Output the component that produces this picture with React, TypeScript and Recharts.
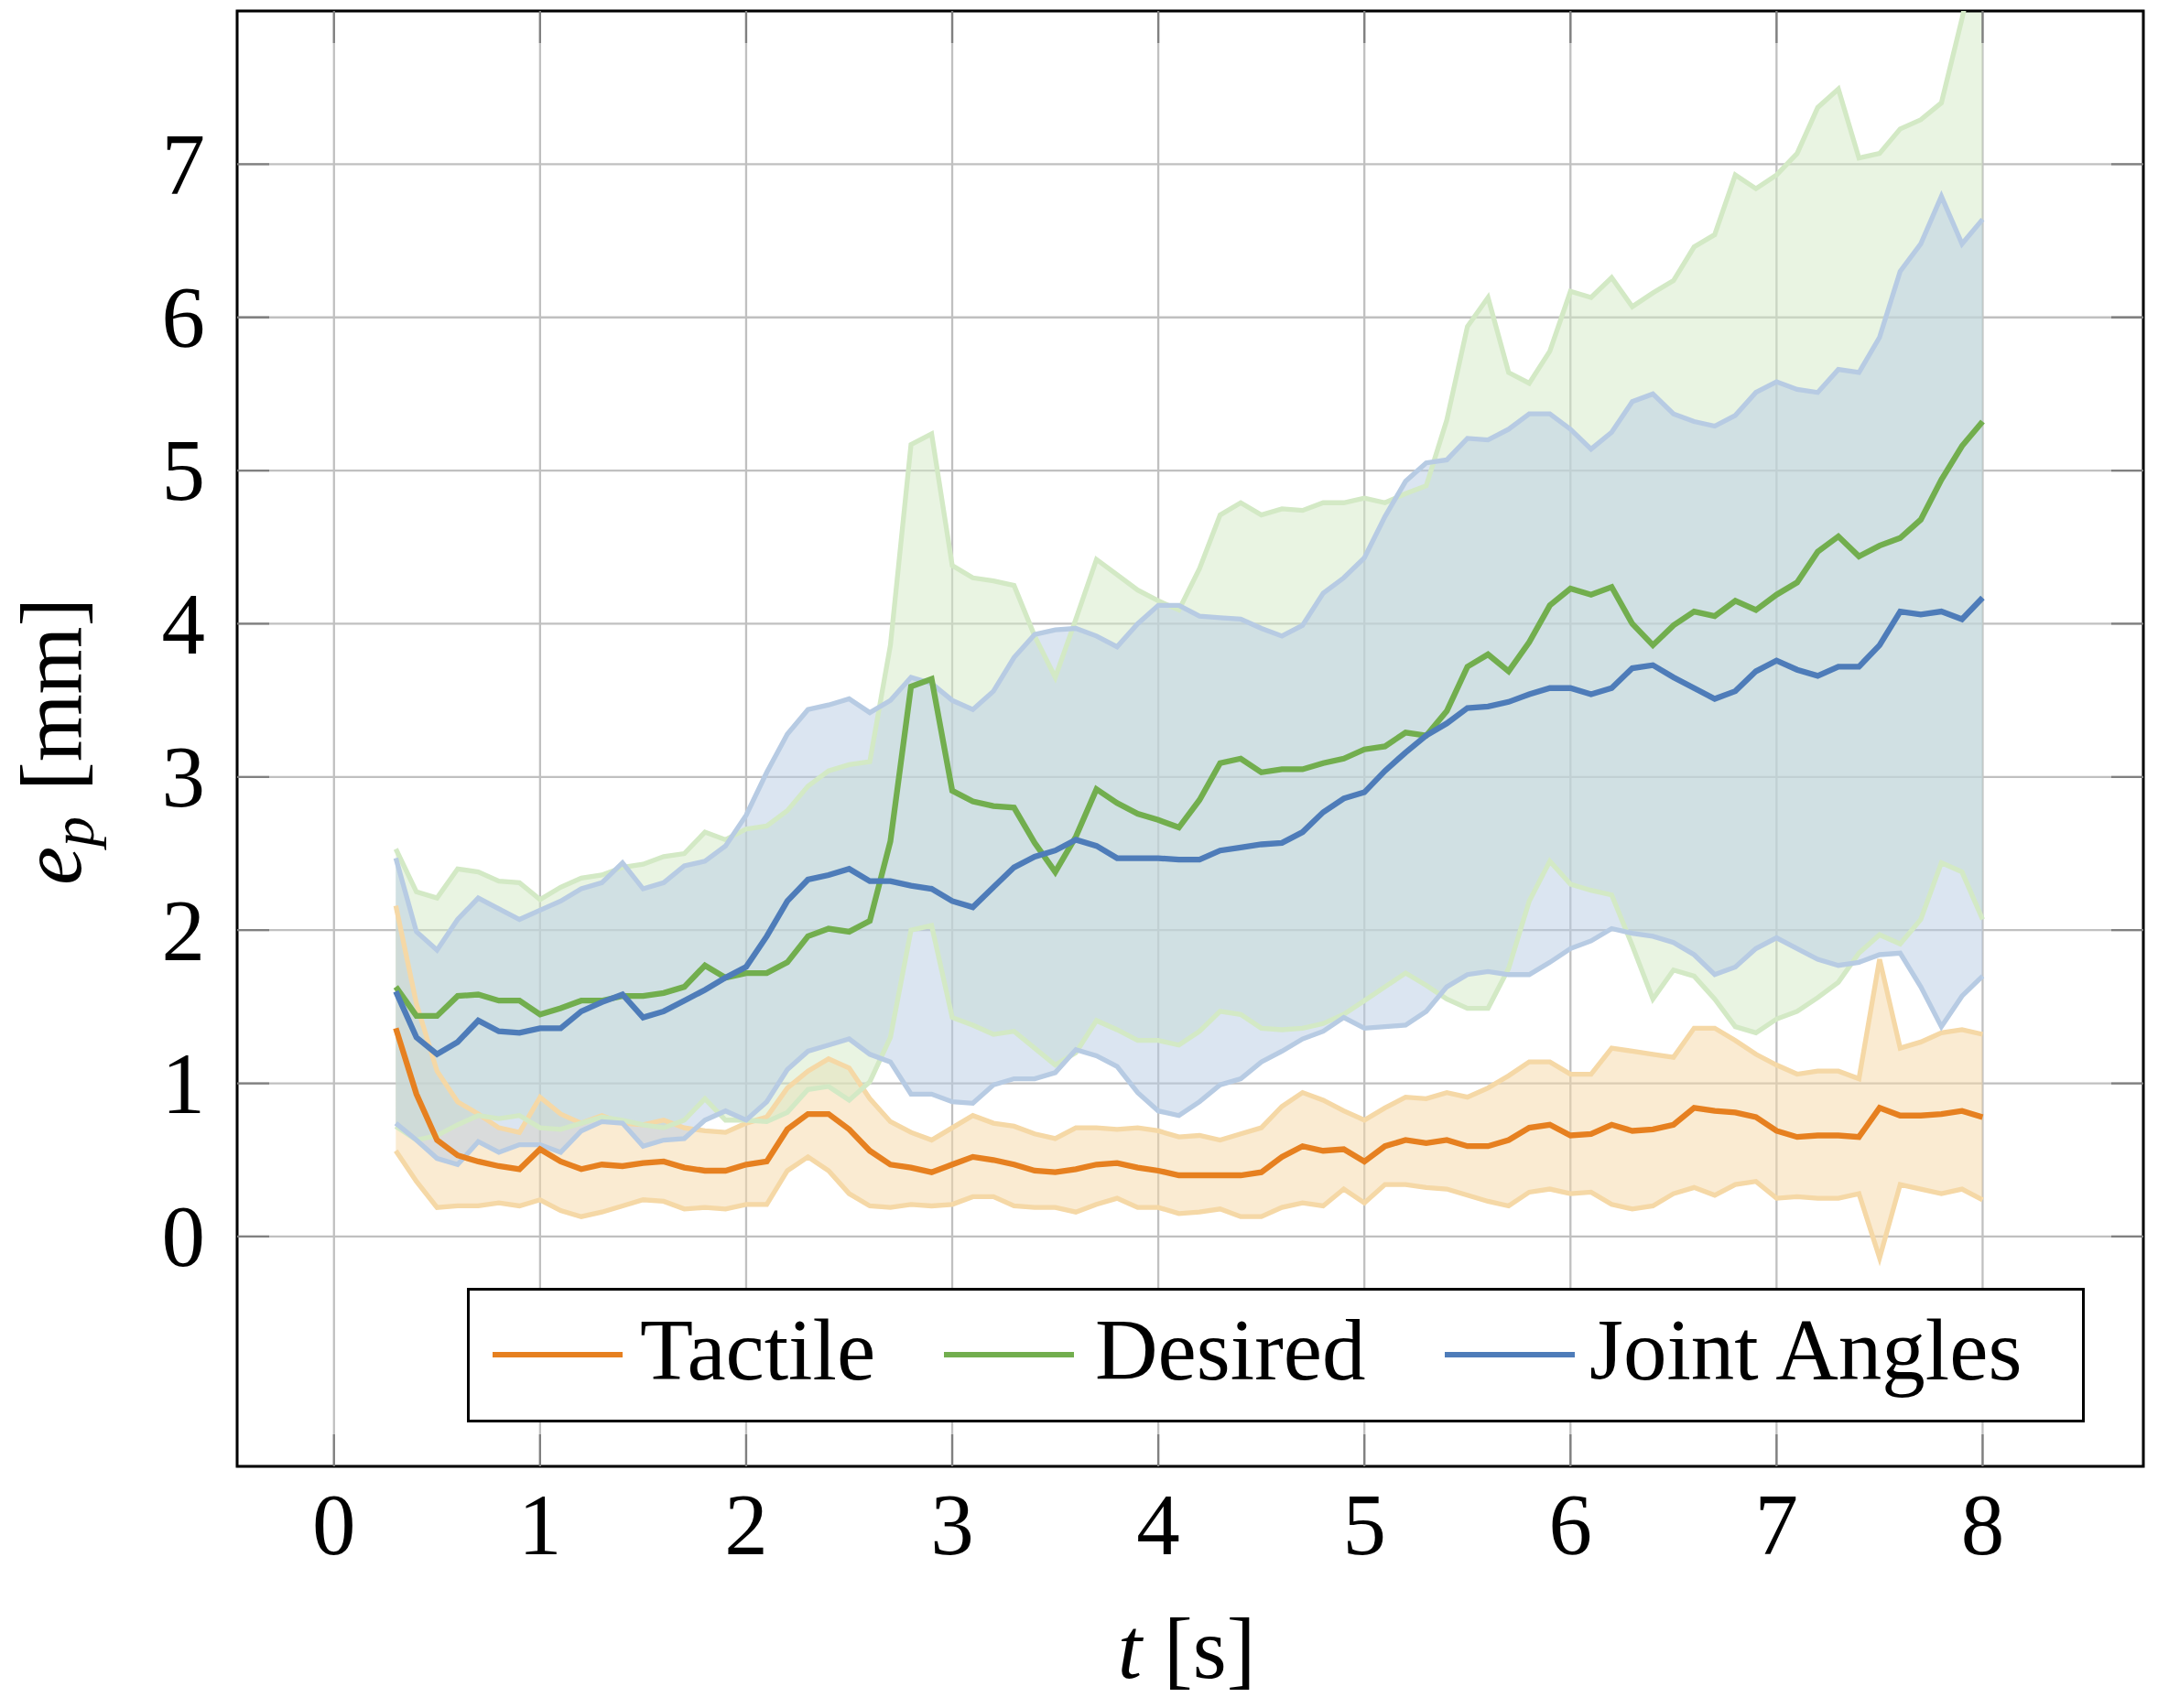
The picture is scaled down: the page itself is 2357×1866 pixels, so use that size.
import React from "react";
import {
  ComposedChart,
  Area,
  Line,
  XAxis,
  YAxis,
  CartesianGrid,
  ReferenceArea,
} from "recharts";

// time stamps [s]
const TIME = [
  0.3, 0.4, 0.5, 0.6, 0.7, 0.8, 0.9,
  1.0, 1.1, 1.2, 1.3, 1.4, 1.5, 1.6, 1.7, 1.8, 1.9,
  2.0, 2.1, 2.2, 2.3, 2.4, 2.5, 2.6, 2.7, 2.8, 2.9,
  3.0, 3.1, 3.2, 3.3, 3.4, 3.5, 3.6, 3.7, 3.8, 3.9,
  4.0, 4.1, 4.2, 4.3, 4.4, 4.5, 4.6, 4.7, 4.8, 4.9,
  5.0, 5.1, 5.2, 5.3, 5.4, 5.5, 5.6, 5.7, 5.8, 5.9,
  6.0, 6.1, 6.2, 6.3, 6.4, 6.5, 6.6, 6.7, 6.8, 6.9,
  7.0, 7.1, 7.2, 7.3, 7.4, 7.5, 7.6, 7.7, 7.8, 7.9,
  8.0,
];

// Tactile
const tactileMean = [
  1.36, 0.93, 0.63, 0.53, 0.49, 0.46, 0.44,
  0.57, 0.49, 0.44, 0.47, 0.46, 0.48, 0.49, 0.45, 0.43, 0.43,
  0.47, 0.49, 0.70, 0.80, 0.80, 0.70, 0.56, 0.47, 0.45, 0.42,
  0.47, 0.52, 0.50, 0.47, 0.43, 0.42, 0.44, 0.47, 0.48, 0.45,
  0.43, 0.40, 0.40, 0.40, 0.40, 0.42, 0.52, 0.59, 0.56, 0.57,
  0.49, 0.59, 0.63, 0.61, 0.63, 0.59, 0.59, 0.63, 0.71, 0.73,
  0.66, 0.67, 0.73, 0.69, 0.70, 0.73, 0.84, 0.82, 0.81, 0.78,
  0.69, 0.65, 0.66, 0.66, 0.65, 0.84, 0.79, 0.79, 0.80, 0.82,
  0.78,
];
const tactileUpper = [
  2.16, 1.52, 1.08, 0.88, 0.80, 0.71, 0.68,
  0.91, 0.80, 0.74, 0.79, 0.74, 0.73, 0.76, 0.71, 0.69, 0.68,
  0.74, 0.78, 0.97, 1.08, 1.16, 1.10, 0.90, 0.75, 0.68, 0.63,
  0.71, 0.79, 0.74, 0.72, 0.67, 0.64, 0.71, 0.71, 0.70, 0.71,
  0.69, 0.65, 0.66, 0.63, 0.67, 0.71, 0.85, 0.94, 0.89, 0.82,
  0.76, 0.84, 0.91, 0.90, 0.94, 0.91, 0.97, 1.05, 1.14, 1.14,
  1.06, 1.06, 1.23, 1.21, 1.19, 1.17, 1.36, 1.36, 1.28, 1.19,
  1.12, 1.06, 1.08, 1.08, 1.03, 1.81, 1.23, 1.27, 1.33, 1.35,
  1.32,
];
const tactileLower = [
  0.56, 0.36, 0.19, 0.20, 0.20, 0.22, 0.20,
  0.24, 0.17, 0.13, 0.16, 0.20, 0.24, 0.23, 0.18, 0.19, 0.18,
  0.21, 0.21, 0.43, 0.52, 0.43, 0.28, 0.20, 0.19, 0.21, 0.20,
  0.21, 0.26, 0.26, 0.20, 0.19, 0.19, 0.16, 0.21, 0.25, 0.19,
  0.19, 0.15, 0.16, 0.18, 0.13, 0.13, 0.19, 0.22, 0.20, 0.31,
  0.22, 0.34, 0.34, 0.32, 0.31, 0.27, 0.23, 0.20, 0.29, 0.31,
  0.28, 0.29, 0.21, 0.18, 0.20, 0.28, 0.32, 0.27, 0.34, 0.36,
  0.25, 0.26, 0.25, 0.25, 0.28, -0.14, 0.34, 0.31, 0.28, 0.31,
  0.24,
];

// Desired
const desiredMean = [
  1.63, 1.44, 1.44, 1.57, 1.58, 1.54, 1.54,
  1.45, 1.49, 1.54, 1.54, 1.57, 1.57, 1.59, 1.63, 1.77, 1.69,
  1.72, 1.72, 1.79, 1.96, 2.01, 1.99, 2.06, 2.58, 3.59, 3.64,
  2.91, 2.84, 2.81, 2.80, 2.57, 2.38, 2.61, 2.92, 2.83, 2.76,
  2.72, 2.67, 2.85, 3.09, 3.12, 3.03, 3.05, 3.05, 3.09, 3.12,
  3.18, 3.20, 3.29, 3.27, 3.43, 3.72, 3.80, 3.69, 3.88, 4.12,
  4.23, 4.19, 4.24, 4.00, 3.86, 3.99, 4.08, 4.05, 4.15, 4.09,
  4.19, 4.27, 4.47, 4.57, 4.44, 4.51, 4.56, 4.68, 4.94, 5.16,
  5.32,
];
const desiredUpper = [
  2.53, 2.25, 2.21, 2.40, 2.38, 2.32, 2.31,
  2.20, 2.28, 2.34, 2.36, 2.41, 2.43, 2.48, 2.50, 2.64, 2.59,
  2.66, 2.68, 2.78, 2.94, 3.04, 3.08, 3.10, 3.86, 5.17, 5.24,
  4.38, 4.30, 4.28, 4.25, 3.92, 3.65, 4.03, 4.42, 4.32, 4.22,
  4.15, 4.09, 4.36, 4.71, 4.79, 4.71, 4.75, 4.74, 4.79, 4.79,
  4.82, 4.79, 4.85, 4.90, 5.33, 5.94, 6.13, 5.64, 5.57, 5.78,
  6.17, 6.13, 6.26, 6.07, 6.16, 6.24, 6.46, 6.54, 6.93, 6.84,
  6.93, 7.07, 7.37, 7.49, 7.04, 7.07, 7.23, 7.29, 7.40, 7.95,
  8.57,
];
const desiredLower = [
  0.72, 0.63, 0.66, 0.73, 0.79, 0.77, 0.79,
  0.71, 0.70, 0.74, 0.78, 0.76, 0.73, 0.71, 0.76, 0.90, 0.76,
  0.76, 0.75, 0.81, 0.96, 0.98, 0.89, 1.01, 1.30, 2.00, 2.03,
  1.43, 1.38, 1.32, 1.34, 1.23, 1.12, 1.20, 1.41, 1.35, 1.28,
  1.28, 1.25, 1.34, 1.47, 1.45, 1.36, 1.35, 1.36, 1.39, 1.45,
  1.54, 1.63, 1.72, 1.64, 1.55, 1.49, 1.49, 1.75, 2.19, 2.45,
  2.30, 2.26, 2.23, 1.90, 1.55, 1.74, 1.70, 1.55, 1.37, 1.33,
  1.42, 1.47, 1.56, 1.66, 1.85, 1.97, 1.91, 2.07, 2.44, 2.38,
  2.07,
];

// Joint Angles
const jointMean = [
  1.60, 1.30, 1.19, 1.27, 1.41, 1.34, 1.33,
  1.36, 1.36, 1.47, 1.53, 1.58, 1.43, 1.47, 1.54, 1.61, 1.69,
  1.76, 1.96, 2.19, 2.33, 2.36, 2.40, 2.32, 2.32, 2.29, 2.27,
  2.19, 2.15, 2.28, 2.41, 2.48, 2.52, 2.59, 2.55, 2.47, 2.47,
  2.47, 2.46, 2.46, 2.52, 2.54, 2.56, 2.57, 2.64, 2.77, 2.86,
  2.90, 3.04, 3.16, 3.27, 3.35, 3.45, 3.46, 3.49, 3.54, 3.58,
  3.58, 3.54, 3.58, 3.71, 3.73, 3.65, 3.58, 3.51, 3.56, 3.69,
  3.76, 3.70, 3.66, 3.72, 3.72, 3.86, 4.08, 4.06, 4.08, 4.03,
  4.17,
];
const jointUpper = [
  2.47, 1.99, 1.87, 2.07, 2.21, 2.14, 2.07,
  2.13, 2.19, 2.27, 2.31, 2.44, 2.27, 2.31, 2.42, 2.45, 2.55,
  2.75, 3.03, 3.28, 3.44, 3.47, 3.51, 3.42, 3.50, 3.65, 3.61,
  3.50, 3.44, 3.56, 3.78, 3.93, 3.96, 3.97, 3.92, 3.85, 4.00,
  4.12, 4.12, 4.05, 4.04, 4.03, 3.97, 3.92, 3.99, 4.20, 4.30,
  4.43, 4.70, 4.93, 5.05, 5.07, 5.21, 5.20, 5.27, 5.37, 5.37,
  5.27, 5.14, 5.25, 5.45, 5.50, 5.37, 5.32, 5.29, 5.36, 5.51,
  5.58, 5.53, 5.51, 5.66, 5.64, 5.87, 6.30, 6.48, 6.79, 6.48,
  6.64,
];
const jointLower = [
  0.74, 0.63, 0.51, 0.47, 0.62, 0.55, 0.60,
  0.60, 0.55, 0.69, 0.75, 0.74, 0.59, 0.63, 0.64, 0.76, 0.82,
  0.76, 0.88, 1.09, 1.21, 1.25, 1.29, 1.19, 1.14, 0.93, 0.93,
  0.88, 0.87, 0.99, 1.03, 1.03, 1.07, 1.22, 1.18, 1.11, 0.94,
  0.82, 0.79, 0.88, 0.99, 1.03, 1.14, 1.21, 1.29, 1.34, 1.43,
  1.36, 1.37, 1.38, 1.47, 1.63, 1.71, 1.73, 1.71, 1.71, 1.79,
  1.88, 1.93, 2.01, 1.98, 1.96, 1.92, 1.84, 1.71, 1.76, 1.88,
  1.95, 1.88, 1.81, 1.77, 1.79, 1.84, 1.85, 1.63, 1.37, 1.57,
  1.70,
];

const X_TICKS = [0, 1, 2, 3, 4, 5, 6, 7, 8];
const Y_TICKS = [0, 1, 2, 3, 4, 5, 6, 7];

const SERIES = [
  { key: "tac", name: "Tactile", color: "#e68020", light: "#f5d8a6", mean: tactileMean, upper: tactileUpper, lower: tactileLower },
  { key: "des", name: "Desired", color: "#72ae4e", light: "#d3e9c5", mean: desiredMean, upper: desiredUpper, lower: desiredLower },
  { key: "joi", name: "Joint Angles", color: "#4e7cb9", light: "#b7cbe3", mean: jointMean, upper: jointUpper, lower: jointLower },
];

const rows = TIME.map((t, i) => {
  const r: Record<string, any> = { t };
  SERIES.forEach((s) => {
    r[s.key + "Mean"] = s.mean[i];
    r[s.key + "Up"] = s.upper[i];
    r[s.key + "Lo"] = s.lower[i];
    r[s.key + "Band"] = [s.lower[i], s.upper[i]];
  });
  return r;
});

const W = 2357;
const H = 1866;
const PL = 259;
const PR = 2341;
const PT = 12;
const PB = 1602;
const TICK = 35;
const FONT = '"Liberation Serif", "DejaVu Serif", serif';
const FS = 95;

function YTick({ y, payload }: any) {
  return (
    <g>
      <line x1={PL} x2={PL + TICK} y1={y} y2={y} stroke="#808080" strokeWidth={2.3} />
      <line x1={PR - TICK} x2={PR} y1={y} y2={y} stroke="#808080" strokeWidth={2.3} />
      <text x={PL - 35} y={y} dy="0.34em" textAnchor="end" fontSize={FS} fontFamily={FONT} fill="#000">
        {payload.value}
      </text>
    </g>
  );
}

function XTick({ x, payload }: any) {
  return (
    <g>
      <line x1={x} x2={x} y1={PB - TICK} y2={PB} stroke="#808080" strokeWidth={2.3} />
      <line x1={x} x2={x} y1={PT} y2={PT + TICK} stroke="#808080" strokeWidth={2.3} />
      <text x={x} y={PB + 96} textAnchor="middle" fontSize={FS} fontFamily={FONT} fill="#000">
        {payload.value}
      </text>
    </g>
  );
}

function XTitle() {
  return (
    <text x={1296} y={1833} textAnchor="middle" fontSize={FS} fontFamily={FONT} fill="#000">
      <tspan fontStyle="italic">t</tspan>
      <tspan dx={24}>[s]</tspan>
    </text>
  );
}

function YTitle() {
  const cx = 88;
  const cy = 810;
  return (
    <text
      x={cx}
      y={cy}
      transform={`rotate(-90, ${cx}, ${cy})`}
      textAnchor="middle"
      fontSize={FS}
      fontFamily={FONT}
      fill="#000"
    >
      <tspan fontStyle="italic">e</tspan>
      <tspan fontStyle="italic" fontSize={66} dy={14}>p</tspan>
      <tspan dy={-14} dx={28}>[mm]</tspan>
    </text>
  );
}

function LegendBox() {
  const items = [
    { line: 28, text: 189 },
    { line: 521, text: 686 },
    { line: 1068, text: 1226 },
  ];
  return (
    <svg
      width={1767}
      height={147}
      style={{ position: "absolute", left: 510, top: 1407 }}
    >
      <rect x={1.5} y={1.5} width={1764} height={144} fill="#fff" stroke="#000" strokeWidth={3} />
      {SERIES.map((s, i) => (
        <g key={s.key}>
          <line x1={items[i].line} x2={items[i].line + 142} y1={73} y2={73} stroke={s.color} strokeWidth={6} />
          <text x={items[i].text} y={100} fontSize={FS} fontFamily={FONT} fill="#000">
            {s.name}
          </text>
        </g>
      ))}
    </svg>
  );
}

export default function App() {
  return (
    <div style={{ position: "absolute", left: 0, top: 0, width: W, height: H, background: "#fff" }}>
      <ComposedChart
        width={W}
        height={H}
        data={rows}
        margin={{ top: PT, right: W - PR, bottom: 0, left: 0 }}
      >
        <CartesianGrid stroke="#c0c0c0" strokeWidth={2.3} />
        <XAxis
          dataKey="t"
          type="number"
          domain={[-0.47, 8.78]}
          ticks={X_TICKS}
          interval={0}
          allowDataOverflow
          height={H - PB}
          axisLine={false}
          tickLine={false}
          tick={<XTick />}
          label={<XTitle />}
        />
        <YAxis
          type="number"
          domain={[-1.5, 8]}
          ticks={Y_TICKS}
          interval={0}
          allowDataOverflow
          width={PL}
          axisLine={false}
          tickLine={false}
          tick={<YTick />}
          label={<YTitle />}
        />
        {SERIES.map((s) => (
          <Area
            key={s.key + "Band"}
            type="linear"
            dataKey={s.key + "Band"}
            stroke="none"
            fill={s.light}
            fillOpacity={0.5}
            dot={false}
            activeDot={false}
            isAnimationActive={false}
          />
        ))}
        {SERIES.map((s) => (
          <Line
            key={s.key + "Up"}
            type="linear"
            dataKey={s.key + "Up"}
            stroke={s.light}
            strokeWidth={5.3}
            dot={false}
            activeDot={false}
            isAnimationActive={false}
          />
        ))}
        {SERIES.map((s) => (
          <Line
            key={s.key + "Lo"}
            type="linear"
            dataKey={s.key + "Lo"}
            stroke={s.light}
            strokeWidth={5.3}
            dot={false}
            activeDot={false}
            isAnimationActive={false}
          />
        ))}
        {SERIES.map((s) => (
          <Line
            key={s.key + "Mean"}
            type="linear"
            dataKey={s.key + "Mean"}
            name={s.name}
            stroke={s.color}
            strokeWidth={6.3}
            dot={false}
            activeDot={false}
            isAnimationActive={false}
          />
        ))}
        <ReferenceArea
          x1={-0.47}
          x2={8.78}
          y1={-1.5}
          y2={8}
          ifOverflow="visible"
          fill="none"
          stroke="#000"
          strokeWidth={3}
        />
      </ComposedChart>
      <LegendBox />
    </div>
  );
}
